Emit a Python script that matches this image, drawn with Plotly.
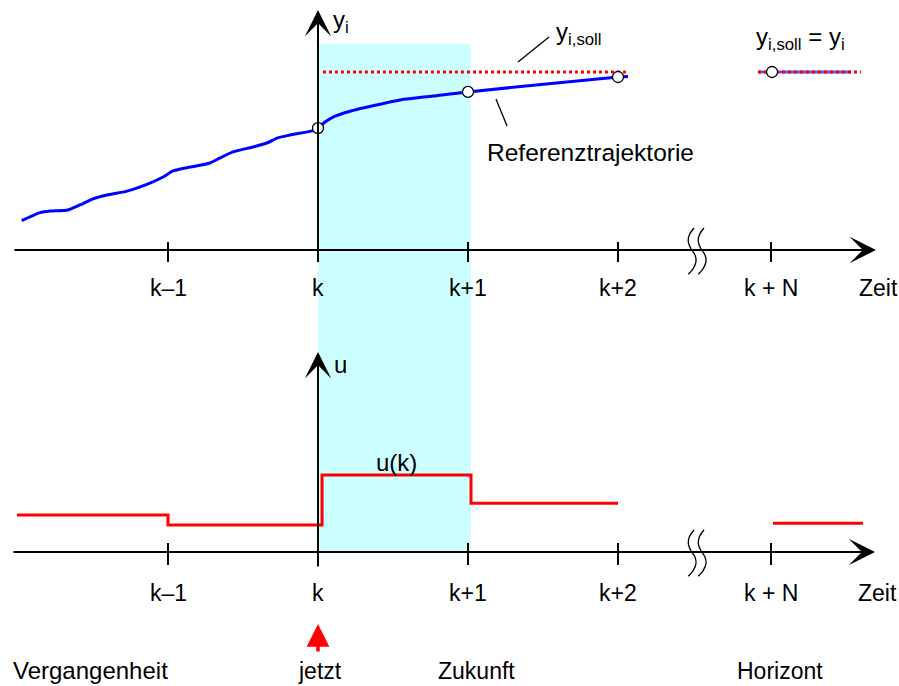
import plotly.graph_objects as go

# ---------------- data ----------------
tick_pos = [-1, 0, 1, 2, 3.02]
tick_labels = ["k–1", "k", "k+1", "k+2", "k + N"]

past_t = [-1.975, -1.853, -1.787, -1.667, -1.587, -1.5, -1.407, -1.273, -1.12, -1.033,
          -0.967, -0.853, -0.72, -0.653, -0.567, -0.433, -0.34, -0.273, -0.187, -0.02, 0.0]
past_y = [0.165, 0.210, 0.219, 0.225, 0.253, 0.287, 0.309, 0.331, 0.376, 0.410,
          0.444, 0.466, 0.489, 0.517, 0.551, 0.579, 0.601, 0.629, 0.646, 0.674, 0.685]

future_t = [0.0, 0.047, 0.1, 0.22, 0.327, 0.547, 0.767, 1.0, 2.0, 2.067]
future_y = [0.685, 0.719, 0.747, 0.781, 0.803, 0.843, 0.865, 0.888, 0.972, 0.975]

sample_t = [0, 1, 2]
sample_y = [0.685, 0.888, 0.972]

y_soll = 1.0
soll_t = [0.033, 2.067]
legend_t = [2.933, 3.62]
legend_blue_t = [2.933, 3.553]
legend_pt = 3.027

u_edges = [-2.007, -1.0, 0.027, 1.02, 2.0]
u_vals = [0.48, 0.351, 1.0, 0.632]
u_horizon_t = [3.033, 3.633]
u_horizon = 0.372

# --------------- pixel helpers (layout only) ---------------
X0, XS = 318, 150      # pixel of k, pixels per step
Y0, YS = 250, 178      # top axis pixel, pixels per unit
U0, US = 552, 77       # bottom axis pixel, pixels per unit
W, H = 899, 686

def tx(px): return (px - X0) / XS
def ty(py): return (Y0 - py) / YS
def tu(py): return (U0 - py) / US

FONT = "Liberation Sans, Arial, sans-serif"
BLUE = "#0000FF"
RED = "#FF0000"

fig = go.Figure()

# cyan prediction window
fig.add_shape(type="rect", xref="x", yref="y", x0=0, x1=1.02, y0=ty(44), y1=ty(552),
              fillcolor="#CCFFFF", line_width=0, layer="below")

# tick marks
tx_seg, ty_seg, tu_seg = [], [], []
for p in tick_pos:
    tx_seg += [p, p, None]
    ty_seg += [ty(262), ty(242), None]
    tu_seg += [tu(565), tu(543), None]
fig.add_trace(go.Scatter(x=tx_seg, y=ty_seg, mode="lines", line=dict(color="black", width=2),
                         hoverinfo="skip", showlegend=False))
fig.add_trace(go.Scatter(x=tx_seg, y=tu_seg, yaxis="y2", mode="lines",
                         line=dict(color="black", width=2), hoverinfo="skip", showlegend=False))

# break symbols
brk = [(694, 228), (689.3, 235), (688.3, 241.7), (690.7, 248.3), (695, 255), (696, 261.7),
       (693.3, 268.3), (688.3, 274.3)]
for dx in (0, 10):
    fig.add_trace(go.Scatter(x=[tx(a + dx) for a, b in brk], y=[ty(b) for a, b in brk],
                             mode="lines", line=dict(color="black", width=1.3, shape="spline"),
                             hoverinfo="skip", showlegend=False))
    fig.add_trace(go.Scatter(x=[tx(a + dx) for a, b in brk], y=[tu(b + 302) for a, b in brk],
                             yaxis="y2", mode="lines",
                             line=dict(color="black", width=1.3, shape="spline"),
                             hoverinfo="skip", showlegend=False))

# setpoint (dotted red)
fig.add_trace(go.Scatter(x=soll_t, y=[y_soll] * 2, mode="lines",
                         line=dict(color=RED, width=3, dash="dot"), hoverinfo="skip", showlegend=False))

# past trajectory
fig.add_trace(go.Scatter(x=past_t, y=past_y, mode="lines",
                         line=dict(color=BLUE, width=3, shape="spline", smoothing=0.6),
                         hoverinfo="skip", showlegend=False))
# reference trajectory
fig.add_trace(go.Scatter(x=future_t, y=future_y, mode="lines",
                         line=dict(color=BLUE, width=3, shape="spline", smoothing=0.8),
                         hoverinfo="skip", showlegend=False))

# legend-like sample on right
fig.add_trace(go.Scatter(x=legend_blue_t, y=[y_soll] * 2, mode="lines",
                         line=dict(color="#5555FF", width=3), hoverinfo="skip", showlegend=False))
fig.add_trace(go.Scatter(x=legend_t, y=[y_soll] * 2, mode="lines",
                         line=dict(color=RED, width=3, dash="dot"), hoverinfo="skip", showlegend=False))

# sample circles
fig.add_trace(go.Scatter(x=sample_t + [legend_pt], y=sample_y + [y_soll], mode="markers",
                         marker=dict(size=11, color="white", line=dict(color="black", width=1.3)),
                         hoverinfo="skip", showlegend=False))

# control signal u
fig.add_trace(go.Scatter(x=u_edges, y=u_vals + [u_vals[-1]], yaxis="y2", mode="lines",
                         line=dict(color=RED, width=3, shape="hv"), hoverinfo="skip", showlegend=False))
fig.add_trace(go.Scatter(x=u_horizon_t, y=[u_horizon] * 2, yaxis="y2", mode="lines",
                         line=dict(color=RED, width=3), hoverinfo="skip", showlegend=False))

# leader lines
fig.add_trace(go.Scatter(x=[tx(549), tx(518)], y=[ty(37), ty(62)], mode="lines",
                         line=dict(color="black", width=1.3), hoverinfo="skip", showlegend=False))
fig.add_trace(go.Scatter(x=[tx(496), tx(507)], y=[ty(99), ty(126)], mode="lines",
                         line=dict(color="black", width=1.3), hoverinfo="skip", showlegend=False))

ann = []

def arrow(x, y, ax, ay, yref="y", color="black", width=2, head=3, size=2.2):
    ann.append(dict(x=x, y=y, ax=ax, ay=ay, xref="x", yref=yref, axref="x", ayref=yref,
                    text="", showarrow=True, arrowhead=head, arrowsize=size,
                    arrowwidth=width, arrowcolor=color, standoff=0, startstandoff=0))

# axes
arrow(tx(876), 0, tx(13), 0)
arrow(0, ty(10), 0, ty(262))
arrow(tx(875), 0, tx(12), 0, yref="y2")
arrow(0, tu(352), 0, tu(568), yref="y2")
# jetzt arrow
arrow(0, tu(624), 0, tu(653), yref="y2", color=RED, width=3.5, head=2, size=1.3)

def label(text, x, y, yref="y", xanchor="center", size=23):
    ann.append(dict(x=x, y=y, xref="x", yref=yref, text=text, showarrow=False,
                    xanchor=xanchor, yanchor="middle", font=dict(family=FONT, size=size, color="black")))

for p, t in zip(tick_pos, tick_labels):
    label(t, p, ty(288))
    label(t, p, tu(593), yref="y2")
label("Zeit", tx(878), ty(288))
label("Zeit", tx(877), tu(593), yref="y2")
label("y<sub>i</sub>", tx(331), ty(21), xanchor="left", size=24)
label("y<sub>i,soll</sub>", tx(554), ty(33), xanchor="left", size=24)
label("y<sub>i,soll</sub> = y<sub>i</sub>", tx(754), ty(38), xanchor="left", size=24)
label("Referenztrajektorie", tx(590), ty(152), size=24.5)
label("u", tx(340), tu(364), yref="y2", size=24)
label("u(k)", tx(396), tu(462), yref="y2", size=24)
label("Vergangenheit", tx(90), tu(670), yref="y2", size=24)
label("jetzt", tx(320), tu(671), yref="y2")
label("Zukunft", tx(476), tu(671), yref="y2")
label("Horizont", tx(780), tu(671), yref="y2")

fig.update_layout(
    width=W, height=H, margin=dict(l=0, r=0, t=0, b=0),
    paper_bgcolor="white", plot_bgcolor="white",
    xaxis=dict(range=[tx(0), tx(W)], visible=False, fixedrange=True),
    yaxis=dict(range=[ty(H), ty(0)], visible=False, fixedrange=True),
    yaxis2=dict(range=[tu(H), tu(0)], visible=False, overlaying="y", fixedrange=True),
    annotations=ann, showlegend=False,
)

fig.write_html("out.html", config={"displayModeBar": False},
               post_script="document.body.style.margin='0';document.body.style.overflow='hidden';")
